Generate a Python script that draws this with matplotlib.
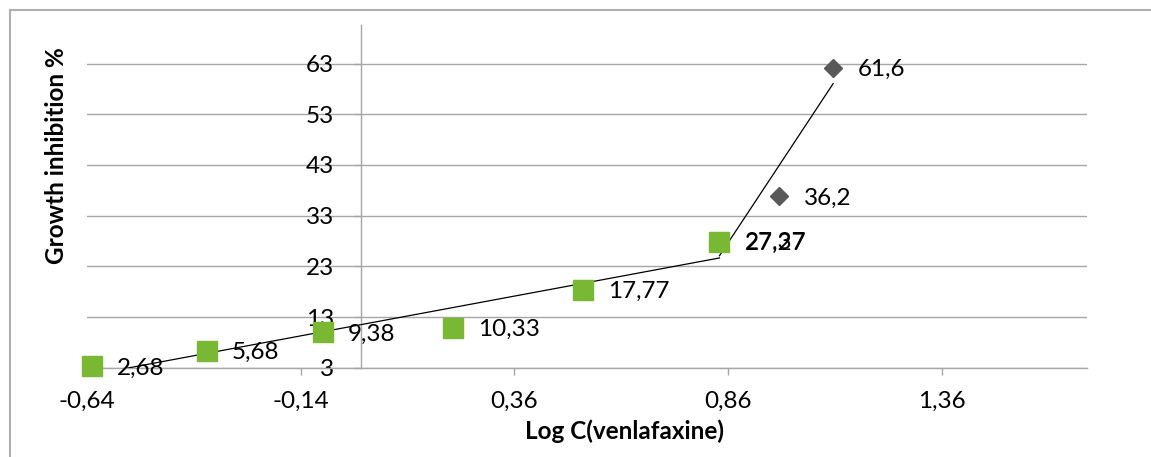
import numpy as np
import matplotlib
matplotlib.use("Agg")
import matplotlib.pyplot as plt
from matplotlib.lines import Line2D
from matplotlib.ticker import FixedLocator, FuncFormatter
from matplotlib.transforms import ScaledTranslation

# ---- data ----
green_x = [-0.629, -0.360, -0.0885, 0.2156, 0.520, 0.840]
green_y = [2.68, 5.68, 9.38, 10.33, 17.77, 27.27]
dark_x = [0.840, 0.979, 1.106]
dark_y = [27.37, 36.2, 61.6]
x_ticks = [-0.64, -0.14, 0.36, 0.86, 1.36]
y_ticks = [3, 13, 23, 33, 43, 53, 63]
x_title = "Log C(venlafaxine)"
y_title = "Growth inhibition %"

W, H = 1151, 457
FS = 17.5
plt.rcParams['font.family'] = ['Lato', 'DejaVu Sans']
fig = plt.figure(figsize=(W / 100, H / 100), dpi=100)
ax = fig.add_axes([87 / W, (H - 367.7) / H, 1000 / W, 342.7 / H])
ax.set_xlim(-0.64, 1.70)
ax.set_ylim(3, 70.6)

gray = '#A6A6A6'
ax.yaxis.grid(True, color=gray, lw=1.0)
ax.set_axisbelow(True)
for s in ['top', 'right']:
    ax.spines[s].set_visible(False)
ax.spines['left'].set_position(('data', 0))
ax.spines['left'].set_color(gray)
ax.spines['bottom'].set_color(gray)
ax.spines['left'].set_linewidth(1.0)
ax.spines['bottom'].set_linewidth(1.0)

ax.xaxis.set_major_locator(FixedLocator(x_ticks))
ax.yaxis.set_major_locator(FixedLocator(y_ticks))
fmt = lambda v, p: f"{v:.2f}".replace('.', ',')
ax.xaxis.set_major_formatter(FuncFormatter(fmt))
ax.yaxis.set_major_formatter(FuncFormatter(lambda v, p: f"{v:g}"))
ax.tick_params(axis='x', direction='out', length=5, width=1, color=gray,
               labelsize=FS, pad=12)
ax.tick_params(axis='y', direction='out', length=5, width=1, color=gray,
               labelsize=FS, pad=14)

# small vertical rendering offset of the plotted series (as in the reference)
shift = ax.transData + ScaledTranslation(0, 3 / 100, fig.dpi_scale_trans)

# trend lines
for xs, ys in [(green_x, green_y), (dark_x, dark_y)]:
    k, b = np.polyfit(xs, ys, 1)
    xx = np.array([min(xs), max(xs)])
    ax.plot(xx, k * xx + b, color='black', lw=0.9, zorder=3, transform=shift)

ax.plot(dark_x, dark_y, linestyle='none', marker='D', ms=9.2,
        color='#595959', mec='#595959', zorder=4, clip_on=False, transform=shift)
ax.plot(green_x, green_y, linestyle='none', marker='s', ms=13.7,
        color='#78B833', mec='#78B833', zorder=5, clip_on=False, transform=shift)

for xs, ys in [(green_x, green_y), (dark_x, dark_y)]:
    for xv, yv in zip(xs, ys):
        ax.annotate(f"{yv:g}".replace('.', ','), (xv, yv), xytext=(18, 1),
                    textcoords='offset points', ha='left', va='center',
                    fontsize=FS, zorder=6, annotation_clip=False)

fig.text(624.5 / W, (H - 431) / H, x_title, ha='center', va='center',
         fontsize=17.5, fontweight='bold')
fig.text(56 / W, (H - 156) / H, y_title, ha='center', va='center',
         rotation=90, fontsize=17.5, fontweight='bold')

# outer chart border
bcol = '#B0B0B0'
fig.add_artist(Line2D([9.5 / W, 9.5 / W], [0, (H - 9.5) / H], color=bcol,
                      lw=1.5, transform=fig.transFigure))
fig.add_artist(Line2D([9.5 / W, 1], [(H - 9.5) / H, (H - 9.5) / H], color=bcol,
                      lw=1.5, transform=fig.transFigure))

fig.savefig('out.png', dpi=100)
